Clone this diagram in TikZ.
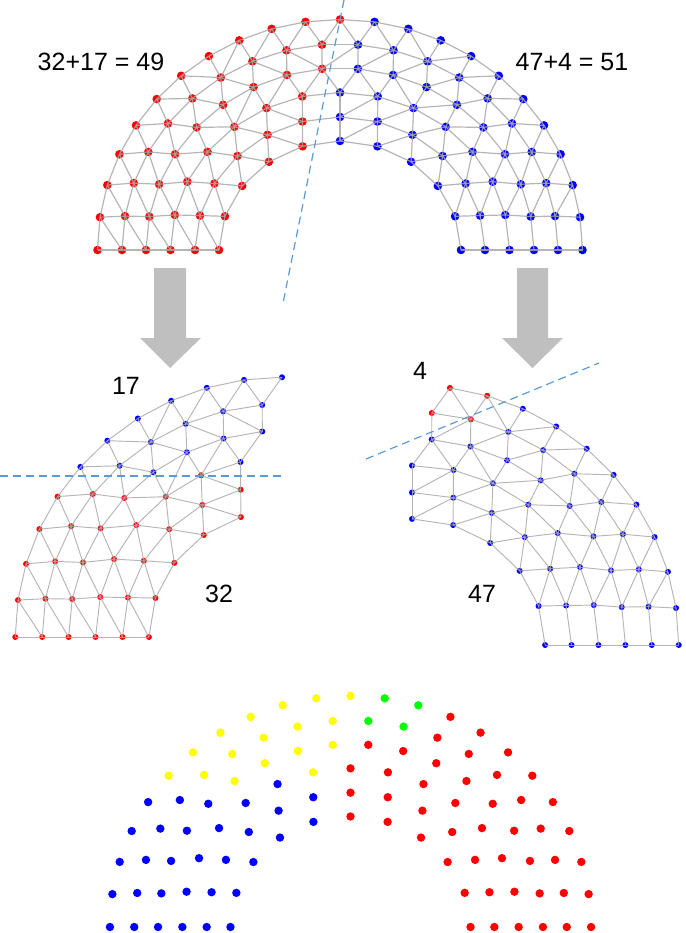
\documentclass[tikz,border=0pt]{standalone}
\usepackage{fontspec}
\setmainfont{Liberation Sans}
\usepackage{tikz}
\usetikzlibrary{calc}
\definecolor{seatred}   {HTML}{FF0000}
\definecolor{seatblue}  {HTML}{0000FF}
\definecolor{seatyellow}{HTML}{FFFF00}
\definecolor{seatgreen} {HTML}{00FF00}
\definecolor{meshgray}  {HTML}{A8A8A8}
\definecolor{cutblue}   {HTML}{5B9BD5}
\definecolor{arrowgray} {HTML}{BFBFBF}
% ring data, inner ring first
\def\ringn{{11,13,15,18,20,23}}            % seats per ring
\def\ringr{{121,145,169.5,194,218,242.5}}  % ring radius (px)
\def\ringl{{5,6,7,9,10,12}}                % seats left of the middle
\def\ringb{{5,6,6,5,5,5}}                  % first colour run
\def\ringg{{5,6,7,9,12,14}}                % end of the green run
\tikzset{
  seat/.style={circle, draw=none, inner sep=0pt, minimum size=8.6pt},
  seatsm/.style={circle, draw=none, inner sep=0pt, minimum size=6pt},
  seatbig/.style={circle, draw=none, inner sep=0pt, minimum size=8.4pt},
  mesh/.style={draw=meshgray, line width=1.2pt, draw opacity=0.85},
  meshsm/.style={draw=meshgray, line width=0.95pt, draw opacity=0.85},
  cut/.style={draw=cutblue, line width=1.2pt, dash pattern=on 8pt off 5pt},
  bigarrow/.style={fill=arrowgray, draw=none},
  count/.style={font=\fontsize{25}{30}\selectfont, text=black, inner sep=0pt},
}
% centre x, centre y, scale, flattening, ring, index -> \seatx, \seaty
\newcommand\seatpos[6]{%
  \pgfmathsetmacro\seatrad{#3*\ringr[#5-1]}%
  \pgfmathsetmacro\seatang{180-#6*180/(\ringn[#5-1]-1)}%
  \pgfmathsetmacro\seatx{#1+\seatrad*cos(\seatang)}%
  \pgfmathsetmacro\seaty{#2-(\seatrad-#4)*sin(\seatang)}%
}
% triangle strip between ring #2 (seats #3..#4) and the next ring (#5..#6)
\newcommand\meshband[6]{%
  \pgfmathtruncatemacro\mbk{#2+1}%
  \pgfmathtruncatemacro\mbn{\ringn[#2-1]-1}%
  \pgfmathtruncatemacro\mbm{\ringn[#2]-1}%
  \foreach \j in {#3,...,#4}{%
    \foreach \i in {#5,...,#6}{%
      \pgfmathtruncatemacro\mblo{max(ifthenelse(\j==#3,-1,\j*\mbm),ifthenelse(\i==#5,-1,\i*\mbn))}%
      \pgfmathtruncatemacro\mbhi{min(ifthenelse(\j==#4,9999,(\j+1)*\mbm),ifthenelse(\i==#6,9999,(\i+1)*\mbn))}%
      \ifnum\mblo<\mbhi \draw[mesh] (#1-#2-\j.center) -- (#1-\mbk-\i.center);\fi
    }%
  }%
}
% links along one ring, seats #3..#4
\newcommand\meshring[4]{%
  \pgfmathtruncatemacro\mrlast{#4-1}%
  \foreach \j in {#3,...,\mrlast}{%
    \pgfmathtruncatemacro\jnext{\j+1}%
    \draw[mesh] (#1-#2-\j.center) -- (#1-#2-\jnext.center);
  }%
}

\begin{document}
\begin{tikzpicture}[x=1pt, y=-1pt]
\useasboundingbox (0,0) rectangle (685,933);

% ---- Top hemicycle: 49 left (red) | 51 right (blue) ----------------
\foreach \k in {1,...,6}{
  \pgfmathtruncatemacro\nlast{\ringn[\k-1]-1}
  \pgfmathtruncatemacro\nleft{\ringl[\k-1]}
  \foreach \j in {0,...,\nlast}{
    \seatpos{340}{250}{1}{12}{\k}{\j}
    \ifnum\j<\nleft \def\seatcol{seatred}\else\def\seatcol{seatblue}\fi
    \node[seat, fill=\seatcol] (top-\k-\j) at (\seatx,\seaty) {};
  }
}
\foreach \k in {1,...,5}{
  \pgfmathtruncatemacro\ja{\ringn[\k-1]-1}
  \pgfmathtruncatemacro\ib{\ringn[\k]-1}
  \meshband{top}{\k}{0}{\ja}{0}{\ib}
}
\foreach \k in {1,...,6}{
  \pgfmathtruncatemacro\ja{\ringn[\k-1]-1}
  \meshring{top}{\k}{0}{\ja}
}
\coordinate (cutT-a) at (344,0);
\coordinate (cutT-b) at (283,303);
\draw[cut] (cutT-a) -- (cutT-b);

\node[count] (sumL) at (101,61.5) {32+17 = 49};
\node[count] (sumR) at (572,62) {47+4 = 51};

% ---- Arrows ---------------------------------------------------------
\coordinate (arrL) at (170,268);
\coordinate (arrR) at (532.5,268);
\fill[bigarrow] (arrL) ++(-16,0) -- ++(32,0) -- ++(0,70) -- ++(15,0)
  -- ++(-31,30) -- ++(-30,-30) -- ++(14,0) -- cycle;
\fill[bigarrow] (arrR) ++(-15.5,0) -- ++(31,0) -- ++(0,70) -- ++(15,0)
  -- ++(-30.5,30) -- ++(-30.5,-30) -- ++(15,0) -- cycle;

% ---- Left half, split again (32 red | 17 blue) ---------------------
\foreach \k in {1,...,6}{
  \pgfmathtruncatemacro\nleft{\ringl[\k-1]-1}
  \pgfmathtruncatemacro\nred{\ringb[\k-1]}
  \foreach \j in {0,...,\nleft}{
    \seatpos{282}{637}{1.1}{7}{\k}{\j}
    \ifnum\j<\nred \def\seatcol{seatred}\else\def\seatcol{seatblue}\fi
    \node[seatsm, fill=\seatcol] (lp-\k-\j) at (\seatx,\seaty) {};
  }
}
\begin{scope}[mesh/.style=meshsm]
  \foreach \k in {1,...,5}{
    \pgfmathtruncatemacro\ja{\ringl[\k-1]-1}
    \pgfmathtruncatemacro\ib{\ringl[\k]-1}
    \meshband{lp}{\k}{0}{\ja}{0}{\ib}
  }
  \foreach \k in {1,...,6}{
    \pgfmathtruncatemacro\ja{\ringl[\k-1]-1}
    \meshring{lp}{\k}{0}{\ja}
  }
\end{scope}
\coordinate (cutL-a) at (0,476);
\coordinate (cutL-b) at (285,476);
\draw[cut] (cutL-a) -- (cutL-b);

\node[count] (numL17) at (126,386) {17};
\node[count] (numL32) at (219,594) {32};

% ---- Right half, split again (4 red | 47 blue) ---------------------
\foreach \k in {1,...,6}{
  \pgfmathtruncatemacro\nlast{\ringn[\k-1]-1}
  \pgfmathtruncatemacro\nleft{\ringl[\k-1]}
  \pgfmathtruncatemacro\nred{ifthenelse(\k>4,\nleft+2,\nleft)}
  \foreach \j in {\nleft,...,\nlast}{
    \seatpos{412}{645}{1.1}{7}{\k}{\j}
    \ifnum\j<\nred \def\seatcol{seatred}\else\def\seatcol{seatblue}\fi
    \node[seatsm, fill=\seatcol] (rp-\k-\j) at (\seatx,\seaty) {};
  }
}
\begin{scope}[mesh/.style=meshsm]
  \foreach \k in {1,...,5}{
    \pgfmathtruncatemacro\ja{\ringl[\k-1]}
    \pgfmathtruncatemacro\jb{\ringn[\k-1]-1}
    \pgfmathtruncatemacro\ia{\ringl[\k]}
    \pgfmathtruncatemacro\ib{\ringn[\k]-1}
    \meshband{rp}{\k}{\ja}{\jb}{\ia}{\ib}
  }
  \foreach \k in {1,...,6}{
    \pgfmathtruncatemacro\ja{\ringl[\k-1]}
    \pgfmathtruncatemacro\jb{\ringn[\k-1]-1}
    \meshring{rp}{\k}{\ja}{\jb}
  }
\end{scope}
\coordinate (cutR-a) at (366,459);
\coordinate (cutR-b) at (599,363);
\draw[cut] (cutR-a) -- (cutR-b);

\node[count] (numR4)  at (420,371) {4};
\node[count] (numR47) at (482,594) {47};

% ---- Resulting hemicycle (blue 32, yellow 17, green 4, red 47) -----
\foreach \k in {1,...,6}{
  \pgfmathtruncatemacro\nlast{\ringn[\k-1]-1}
  \pgfmathtruncatemacro\nblue{\ringb[\k-1]}
  \pgfmathtruncatemacro\nyel{\ringl[\k-1]}
  \pgfmathtruncatemacro\ngrn{\ringg[\k-1]}
  \foreach \j in {0,...,\nlast}{
    \seatpos{350.5}{927}{0.992}{9.5}{\k}{\j}
    \ifnum\j<\nblue \def\seatcol{seatblue}\else
      \ifnum\j<\nyel \def\seatcol{seatyellow}\else
        \ifnum\j<\ngrn \def\seatcol{seatgreen}\else
          \def\seatcol{seatred}\fi\fi\fi
    \node[seatbig, fill=\seatcol] (bot-\k-\j) at (\seatx,\seaty) {};
  }
}

\end{tikzpicture}
\end{document}
